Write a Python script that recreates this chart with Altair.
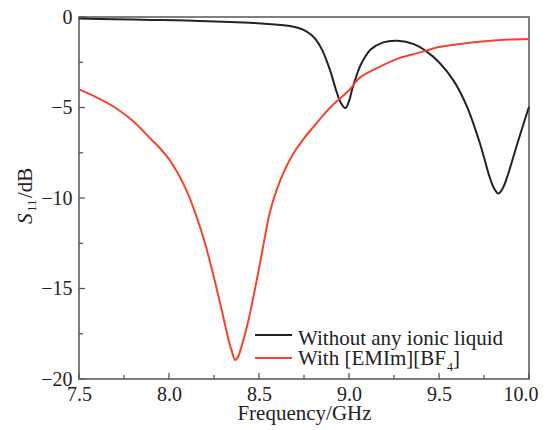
import altair as alt
import pandas as pd

# Black: without any ionic liquid
f_black = [7.5, 7.7, 7.9, 8.1, 8.3, 8.45, 8.55, 8.62, 8.67, 8.71, 8.75, 8.79, 8.82, 8.85, 8.875, 8.9, 8.93,
           8.955, 8.98, 9.0, 9.02, 9.04, 9.06, 9.09, 9.12, 9.19, 9.27, 9.36, 9.43, 9.5, 9.58, 9.656,
           9.728, 9.78, 9.805, 9.83, 9.855, 9.88, 9.935, 10.0]
s_black = [-0.08, -0.12, -0.16, -0.2, -0.26, -0.32, -0.38, -0.44, -0.5, -0.58, -0.72, -0.98, -1.3, -1.8, -2.4, -3.1, -4.1,
           -4.75, -5.03, -4.65, -3.9, -3.3, -2.75, -2.2, -1.8, -1.4, -1.31, -1.5, -1.9, -2.5, -3.5, -4.96,
           -7.0, -8.8, -9.45, -9.75, -9.45, -8.8, -7.0, -4.96]

# Red: with [EMIm][BF4]
f_red = [7.5, 7.6, 7.7, 7.8, 7.9, 7.95, 8.0, 8.05, 8.1, 8.15, 8.2, 8.25, 8.3, 8.33, 8.35, 8.367,
         8.385, 8.40, 8.42, 8.445, 8.47, 8.5, 8.53, 8.56, 8.6, 8.65, 8.7, 8.75, 8.8, 8.85, 8.91,
         9.0, 9.06, 9.17, 9.28, 9.39, 9.5, 9.67, 9.84, 10.0]
s_red = [-4.0, -4.45, -5.0, -5.75, -6.75, -7.25, -7.85, -8.65, -9.65, -10.95, -12.5, -14.4, -16.5, -17.8, -18.5, -18.95,
         -18.75, -18.3, -17.6, -16.6, -15.4, -13.9, -12.3, -10.8, -9.5, -8.3, -7.4, -6.7, -6.1, -5.5, -4.86,
         -4.05, -3.35, -2.75, -2.27, -1.97, -1.66, -1.42, -1.27, -1.21]

x_ticks = [7.5, 8.0, 8.5, 9.0, 9.5, 10.0]
x_minor = [7.75, 8.25, 8.75, 9.25, 9.75]
y_ticks = [-20, -15, -10, -5, 0]
y_minor = [-17.5, -12.5, -7.5, -2.5]

names = ["Without any ionic liquid", "With [EMIm][BF4]"]
colors = ["#222222", "#f4442c"]

W, H = 450, 362
FONT = "Liberation Serif"

df = pd.concat([
    pd.DataFrame({"f": f_black, "s": s_black, "series": names[0]}),
    pd.DataFrame({"f": f_red, "s": s_red, "series": names[1]}),
])

xs = alt.Scale(domain=[7.5, 10.0], nice=False, zero=False)
ys = alt.Scale(domain=[-20, 0], nice=False, zero=False)

xaxis = alt.Axis(values=x_ticks, format=".1f", ticks=False, tickSize=0, domain=False, grid=False,
                 labelFont=FONT, labelFontSize=20, labelColor="#222", labelPadding=5,
                 labelAlign={"condition": {"test": "datum.value >= 10", "value": "right"}, "value": "center"},
                 labelOffset={"condition": {"test": "datum.value >= 10", "value": 9}, "value": 0},
                 title="Frequency/GHz", titleFont=FONT, titleFontSize=21, titleFontWeight="normal",
                 titleColor="#222", titleBaseline="alphabetic", titleY=40, labelFlush=False)
yaxis = alt.Axis(values=y_ticks, format="d", ticks=False, tickSize=0, domain=False, grid=False,
                 labelFont=FONT, labelFontSize=20, labelColor="#222", labelPadding=7,
                 title=None, labelFlush=False)

lines = alt.Chart(df).mark_line(strokeWidth=2, interpolate="catmull-rom").encode(
    x=alt.X("f:Q", scale=xs, axis=xaxis),
    y=alt.Y("s:Q", scale=ys, axis=yaxis),
    color=alt.Color("series:N", scale=alt.Scale(domain=names, range=colors), legend=None),
)

def xtick_layer(vals, length):
    return alt.Chart(pd.DataFrame({"v": vals})).mark_rule(color="#555", strokeWidth=1.3).encode(
        x=alt.X("v:Q", scale=xs), y=alt.value(H), y2=alt.value(H - length))

def ytick_layer(vals, length):
    return alt.Chart(pd.DataFrame({"v": vals})).mark_rule(color="#555", strokeWidth=1.3).encode(
        y=alt.Y("v:Q", scale=ys), x=alt.value(0), x2=alt.value(length))

ticks = [xtick_layer(x_ticks, 6), xtick_layer(x_minor, 4), ytick_layer(y_ticks, 6), ytick_layer(y_minor, 4)]

anno = pd.DataFrame({"a": [0]})

def txt(text, x, y, size, angle=0, style="normal", align="left"):
    return alt.Chart(anno).mark_text(text=text, font=FONT, fontSize=size, fontStyle=style, angle=angle,
                                     align=align, baseline="alphabetic", color="#222").encode(
        x=alt.value(x), y=alt.value(y))

def legline(y, color):
    return alt.Chart(anno).mark_rule(color=color, strokeWidth=2).encode(
        x=alt.value(176), x2=alt.value(213), y=alt.value(y))

annos = [
    legline(318, colors[0]), legline(341, colors[1]),
    txt("Without any ionic liquid", 219, 328, 21),
    txt("With [EMIm][BF", 219, 348, 21),
    txt("4", 368, 354, 12),
    txt("]", 374, 348, 21),
    # y-axis title: S_11/dB
    txt("S", -47, 207, 21, angle=270, style="italic"),
    txt("11", -43, 195, 13, angle=270),
    txt("/dB", -47, 181, 21, angle=270),
]

chart = alt.layer(lines, *ticks, *annos).properties(
    width=W, height=H,
    autosize=alt.AutoSizeParams(type="none"),
    padding={"left": 71, "top": 9, "right": 9, "bottom": 46},
).configure_view(stroke="#555555", strokeWidth=1.5)

chart.save("out.html", embed_options={"renderer": "svg", "actions": False})
